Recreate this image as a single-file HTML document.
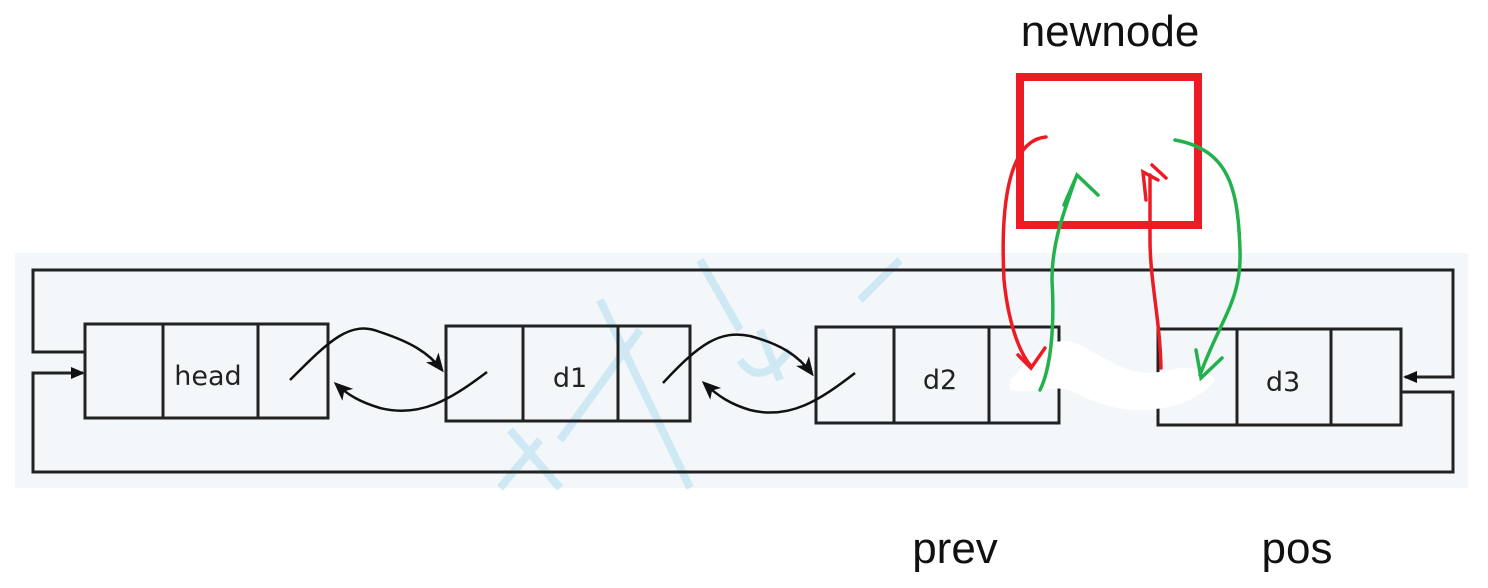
<!DOCTYPE html>
<html><head><style>body{margin:0;background:#fff}svg{display:block}</style></head><body>
<svg width="1488" height="588" viewBox="0 0 1488 588" xmlns="http://www.w3.org/2000/svg">
<defs>
<marker id="a" markerWidth="14" markerHeight="12" refX="12" refY="6" orient="auto" markerUnits="userSpaceOnUse"><path d="M0,0 L14,6 L0,12 Z" fill="#111"/></marker>
<marker id="b" markerWidth="20" markerHeight="20" refX="16" refY="10" orient="auto" markerUnits="userSpaceOnUse"><path d="M0,2 L19,10 L0,18 L5,10 Z" fill="#111"/></marker>
</defs>
<rect x="15" y="253" width="1453" height="235" fill="#f4f7f9"/>
<g fill="none" stroke="#c6e5f3" stroke-width="8" opacity="0.8">
<path d="M510,430 L560,488 M540,440 L500,488 M600,300 L690,488 M640,330 L560,440 M700,260 L740,330 M760,330 L780,380 M860,300 L900,260 M740,360 Q760,390 790,350"/>
</g>
<g fill="none" stroke="#222" stroke-width="3">
<polyline points="85,352 33,352 33,270 1453,270 1453,377 1405,377" marker-end="url(#a)"/>
<polyline points="1401,392 1453,392 1453,472 33,472 33,373 83,373" marker-end="url(#a)"/>
<rect x="85" y="324" width="243" height="94"/><line x1="163" y1="324" x2="163" y2="418"/><line x1="258" y1="324" x2="258" y2="418"/>
<rect x="446" y="326" width="244" height="95"/><line x1="523" y1="326" x2="523" y2="421"/><line x1="618" y1="326" x2="618" y2="421"/>
<rect x="816" y="327" width="243" height="96"/><line x1="894" y1="327" x2="894" y2="423"/><line x1="989" y1="327" x2="989" y2="423"/>
<rect x="1158" y="329" width="243" height="96"/><line x1="1237" y1="329" x2="1237" y2="425"/><line x1="1331" y1="329" x2="1331" y2="425"/>
</g>
<g fill="none" stroke="#111" stroke-width="2.5">
<path d="M290,380 C330,340 350,320 380,332 C410,342 428,352 442,370" marker-end="url(#b)"/>
<path d="M487,372 C450,400 420,418 380,408 C360,402 348,395 336,384" marker-end="url(#b)"/>
<path d="M663,383 C700,343 720,330 750,336 C780,344 798,355 812,374" marker-end="url(#b)"/>
<path d="M855,373 C820,400 790,420 750,410 C730,404 718,396 704,383" marker-end="url(#b)"/>
</g>
<path d="M1010,380 C1030,360 1050,330 1080,345 C1110,360 1130,380 1170,370 C1190,365 1210,370 1215,380 C1200,400 1170,410 1140,410 C1110,410 1090,400 1070,390 C1050,385 1030,395 1010,390 Z" fill="#fff"/>
<rect x="1020" y="77" width="178" height="148" fill="none" stroke="#ed1c24" stroke-width="8"/>
<g fill="none" stroke="#ed1c24" stroke-width="3.5" stroke-linecap="round">
<path d="M1046,137 C1010,140 1000,200 1004,280 C1008,320 1018,350 1030,365"/>
<path d="M1018,355 L1031,368 L1045,348"/>
<path d="M1161,368 C1160,320 1150,280 1150,240 L1150,175"/>
<path d="M1146,200 L1143,172 L1158,180 M1152,165 L1166,178"/>
</g>
<g fill="none" stroke="#22b14c" stroke-width="3.5" stroke-linecap="round">
<path d="M1040,390 C1050,370 1055,330 1052,280 C1052,240 1065,210 1075,180"/>
<path d="M1064,205 L1077,175 L1098,195"/>
<path d="M1175,140 C1230,150 1238,190 1240,250 C1242,300 1220,320 1200,375"/>
<path d="M1196,350 L1201,378 L1222,358"/>
</g>
<g font-family="DejaVu Sans, sans-serif" fill="#222">
<text x="208" y="385" font-size="27" text-anchor="middle">head</text>
<text x="570" y="387" font-size="27" text-anchor="middle">d1</text>
<text x="940" y="389" font-size="27" text-anchor="middle">d2</text>
<text x="1283" y="391" font-size="27" text-anchor="middle">d3</text>
</g>
<g font-family="Liberation Sans, DejaVu Sans, sans-serif" fill="#111" font-size="44">
<text x="1110" y="46" text-anchor="middle">newnode</text>
<text x="955" y="563" text-anchor="middle">prev</text>
<text x="1297" y="563" text-anchor="middle">pos</text>
</g>
</svg>
</body></html>
